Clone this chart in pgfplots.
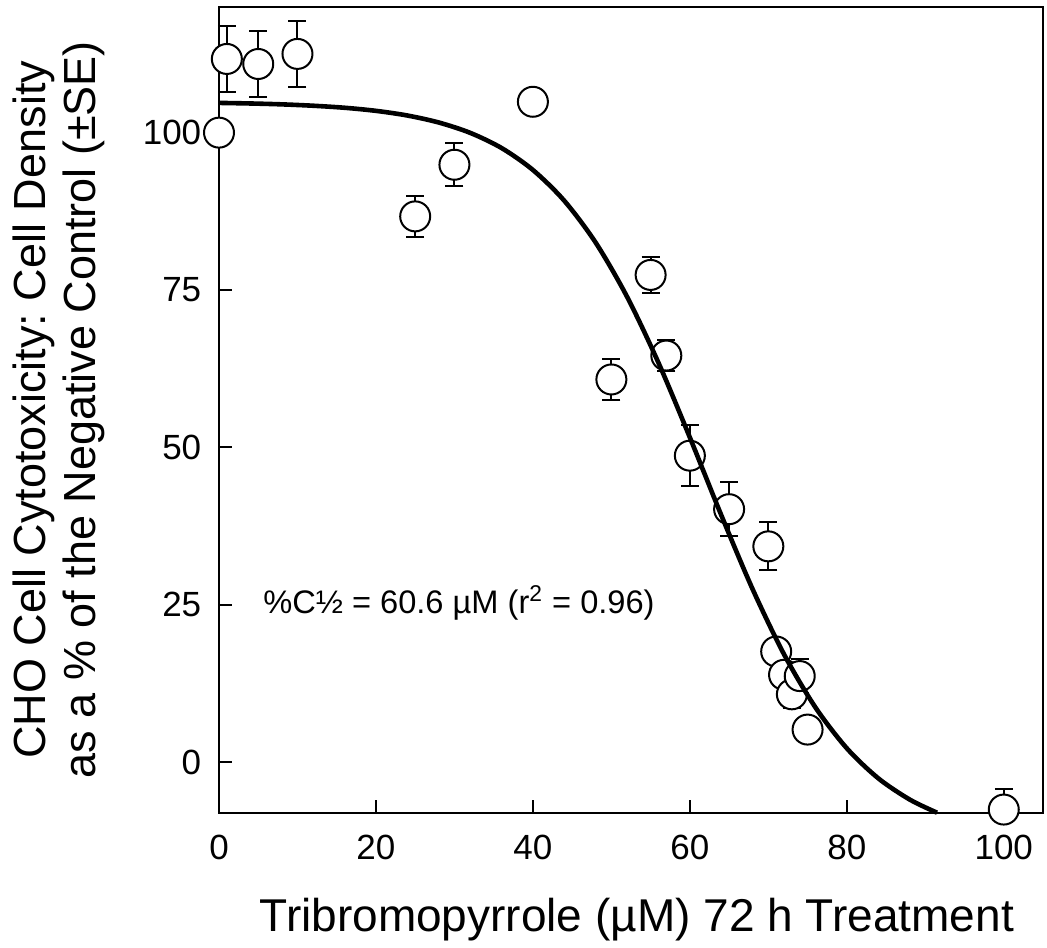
\documentclass[border=0pt]{standalone}
\usepackage{fontspec}
\setmainfont{Liberation Sans}
\usepackage{pgfplots}
\pgfplotsset{compat=1.18}
\frenchspacing
\begin{document}
\begin{tikzpicture}
\useasboundingbox (-109.5pt,-67.15pt) rectangle (414pt,406.35pt);
\begin{axis}[
  at={(0,0)}, anchor=south west,
  scale only axis, width=412pt, height=403pt,
  xmin=0, xmax=105, ymin=-8, ymax=120, clip=false, clip mode=individual,
  xtick={0,20,40,60,80,100}, ytick={0,25,50,75,100},
  xtick pos=bottom, ytick pos=left,
  tick align=inside, major tick length=6.3pt,
  axis line style={line width=1pt}, every tick/.style={line width=1pt, black},
  /pgf/number format/assume math mode=true,
  tick label style={font=\fontsize{17.5}{20}\selectfont},
  xticklabel style={inner sep=0pt, yshift=-11pt},
  yticklabel style={inner sep=0pt, xshift=-8.7pt},
  xlabel={Tribromopyrrole (µM) 72 h Treatment},
  xlabel style={font=\fontsize{23}{25}\selectfont, at={(axis description cs:0.507,-0.148)}, anchor=base},
  ylabel={CHO Cell Cytotoxicity: Cell Density\\as a \% of the Negative Control (±SE)},
  ylabel style={font=\fontsize{22.5}{25}\selectfont, align=center, at={(axis description cs:-0.13,0.5)}, anchor=south, rotate=0},
]
% error bars (drawn first, under the markers)
\addplot[draw=none, no marks, forget plot,
  error bars/.cd, y dir=both, y explicit,
  error bar style={line width=1pt, draw=black},
  error mark options={rotate=90, mark size=4.5pt, line width=1pt, draw=black}]
table[x=x, y=y, y error=e] {
x y e
1 111.7 5.2
5 110.9 5.2
10 112.5 5.2
25 86.7 3.3
30 94.9 3.4
50 60.8 3.2
55 77.4 2.9
57 64.6 2.5
60 48.7 4.8
65 40.2 4.3
70 34.3 3.8
73 10.8 2.2
74 13.7 2.7
};
\addplot[draw=none, no marks, forget plot,
  error bars/.cd, y dir=plus, y explicit,
  error bar style={line width=1pt, draw=black},
  error mark options={rotate=90, mark size=4.5pt, line width=1pt, draw=black}]
table[x=x, y=y, y error=e] {
x y e
100 -7.5 3.3
};
% markers
\addplot[only marks, mark=*, mark size=7.5pt,
  mark options={fill=white, draw=black, line width=1pt}]
table[x=x, y=y] {
x y
0 100
1 111.7
5 110.9
10 112.5
25 86.7
30 94.9
40 104.9
50 60.8
55 77.4
57 64.6
60 48.7
65 40.2
70 34.3
71 17.6
72 13.9
73 10.8
74 13.7
75 5.2
100 -7.5
};
% fitted curve (on top of the markers)
\addplot[black, line width=2.3pt, smooth, no marks] coordinates {
(0,104.72) (4,104.63) (8,104.49) (12,104.27) (16,103.95) (20,103.46) (24,102.72) (28,101.61) (32,99.97) (36,97.56) (40,94.07) (44,89.18) (48,82.53) (52,73.93) (56,63.45) (60,51.59) (64,39.26) (68,27.49) (72,17.15) (76,8.72) (80,2.23) (84,-2.53) (88,-5.90) (91.5,-8.0)
};
\node[anchor=west, font=\fontsize{16.3}{18}\selectfont, inner sep=0pt] at (axis cs:5.6,25.3) {\%C½ = 60.6 µM (r\textsuperscript{2} = 0.96)};
\end{axis}
\end{tikzpicture}
\end{document}
